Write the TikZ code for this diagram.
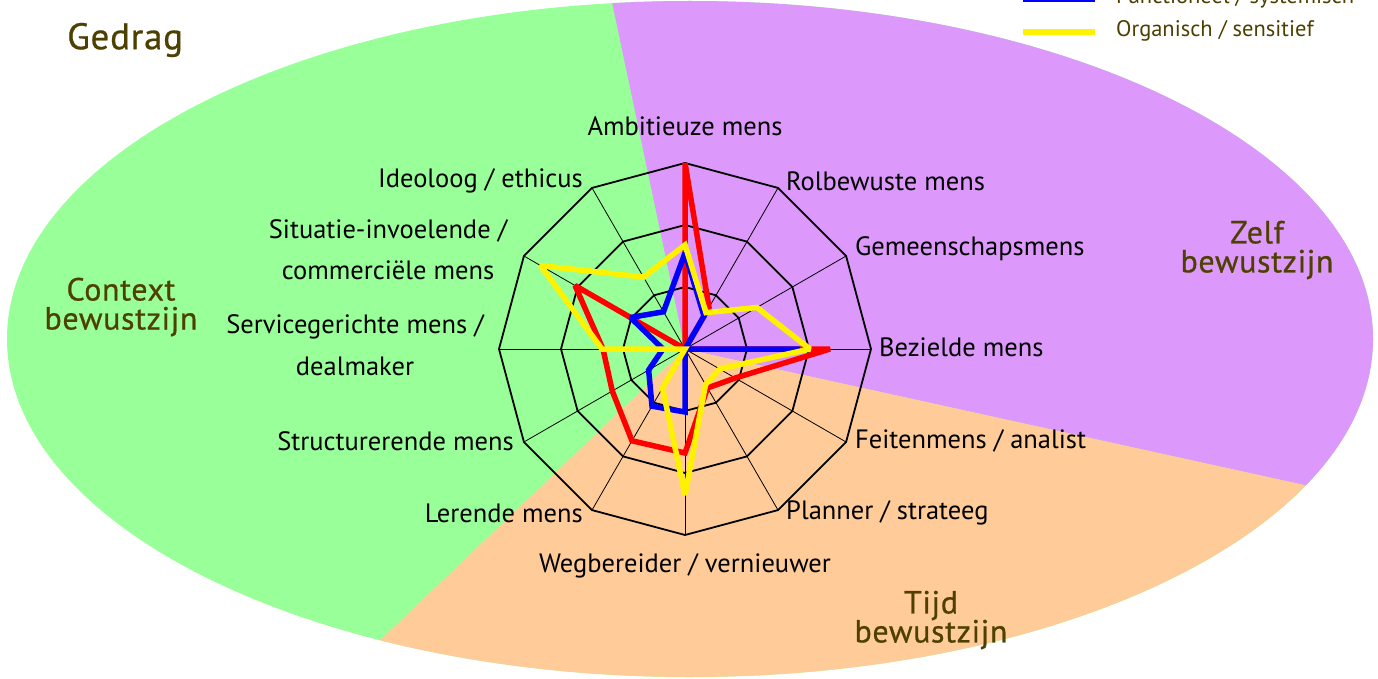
\documentclass[tikz,border=0pt]{standalone}
\usepackage{fontspec}
\setmainfont{PT Sans}
\definecolor{bggreen}{RGB}{153,255,153}
\definecolor{bgpurple}{RGB}{220,152,250}
\definecolor{bgpeach}{RGB}{255,204,153}
\definecolor{olive}{RGB}{77,64,0}
\begin{document}
\begin{tikzpicture}[x=1pt,y=-1pt,
  spoke/.style={black,line width=0.8pt},
  ring/.style={black,line width=1.8pt,line join=miter},
  series/.style={line width=5.5pt,line join=miter,miter limit=2},
  lbl/.style={font=\fontsize{26.5}{30}\selectfont,inner sep=0pt,text=black},
  cat/.style={font=\fontsize{32}{34}\selectfont\addfontfeatures{LetterSpace=2,FakeBold=0.6},text=olive,align=center,inner sep=0pt},
  leg/.style={font=\fontsize{22.5}{26}\selectfont,text=olive,inner sep=0pt,anchor=west}]
\useasboundingbox (0,0) rectangle (1378,679);
% background sectors
\begin{scope}
  \clip (690,339) ellipse [x radius=683, y radius=338];
  \coordinate (c) at (685,349);
  \fill[bggreen] (-10,-10) rectangle (1400,700);
  \fill[bgpurple] (c) -- (539,-345) -- (1500,-345) -- (1500,528) -- cycle;
  \fill[bgpeach] (c) -- (1500,528) -- (1500,800) -- (213,800) -- cycle;
\end{scope}
% radar
\begin{scope}[shift={(685,349)},yscale=-1]
  \foreach \i in {0,...,11} \coordinate (v\i) at ({90-30*\i}:186);
  \coordinate (o) at (0,0);
  \foreach \i in {0,...,11} \draw[spoke] (o) -- (v\i);
  \foreach \r in {62,124,186}
    \draw[ring] (90:\r) -- (60:\r) -- (30:\r) -- (0:\r) -- (-30:\r) -- (-60:\r) -- (-90:\r) -- (-120:\r) -- (-150:\r) -- (180:\r) -- (150:\r) -- (120:\r) -- cycle;
  \draw[series,red] (90:186) -- (60:48) -- (o) -- (0:145) -- (-30:58) -- (-60:45) -- (-90:104) -- (-120:106) -- (-150:84) -- (180:82) -- (150:127) -- (o) -- cycle;
  \draw[series,blue] (90:96) -- (60:38) -- (o) -- (0:115) -- (o) -- (-90:63) -- (-120:66) -- (-150:42) -- (180:22) -- (150:63) -- (120:43) -- cycle;
  \draw[series,yellow] (90:104) -- (60:42) -- (30:83) -- (0:125) -- (-30:40) -- (-60:41) -- (-90:146) -- (-120:45) -- (o) -- (180:83) -- (150:167) -- (120:83) -- cycle;
\end{scope}
% axis labels
\node[lbl] (l0) at (685,126) {Ambitieuze mens};
\node[lbl,anchor=west] (l1) at (786,181) {Rolbewuste mens};
\node[lbl,anchor=west] (l2) at (855,249) {Gemeenschapsmens};
\node[lbl,anchor=west] (l3) at (879,347) {Bezielde mens};
\node[lbl,anchor=west] (l4) at (855,441) {Feitenmens / analist};
\node[lbl,anchor=west] (l5) at (786,513) {Planner / strateeg};
\node[lbl] (l6) at (685,566) {Wegbereider / vernieuwer};
\node[lbl,anchor=east] (l7) at (583,513) {Lerende mens};
\node[lbl,anchor=east] (l8) at (514,441) {Structurerende mens};
\node[lbl] (l9a) at (355,327) {Servicegerichte mens /};
\node[lbl] (l9b) at (355,366) {dealmaker};
\node[lbl] (l10a) at (388,231) {Situatie-invoelende /};
\node[lbl] (l10b) at (388,270) {commerciële mens};
\node[lbl,anchor=east] (l11) at (583,181) {Ideoloog / ethicus};
% category labels
\node[cat,anchor=west,font=\fontsize{37}{40}\selectfont\addfontfeatures{LetterSpace=2,FakeBold=0.6}] (gedrag) at (67,40) {Gedrag};
\node[cat] (context) at (121,307) {Context\\[-5pt]bewustzijn};
\node[cat] (zelf) at (1257,250) {Zelf\\[-5pt]bewustzijn};
\node[cat] (tijd) at (931,620) {Tijd\\[-5pt]bewustzijn};
% legend
\coordinate (b1) at (1023,-1); \coordinate (b2) at (1095,-1);
\draw[blue,line width=6pt] (b1) -- (b2);
\node[leg] (legb) at (1116,-2) {Functioneel / systemisch};
\coordinate (y1) at (1023,32); \coordinate (y2) at (1095,32);
\draw[yellow,line width=6pt] (y1) -- (y2);
\node[leg] (legy) at (1116,31) {Organisch / sensitief};
\end{tikzpicture}
\end{document}
